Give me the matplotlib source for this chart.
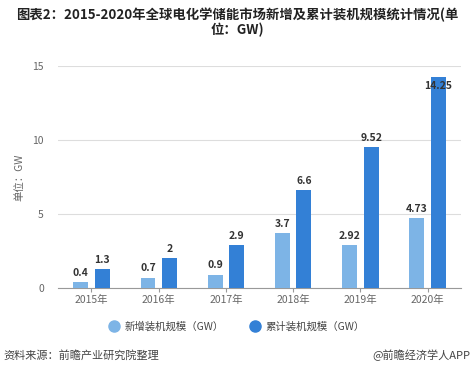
import matplotlib

matplotlib.use("Agg")
import matplotlib.pyplot as plt  # noqa: E402
import numpy as np  # noqa: E402
from matplotlib.lines import Line2D  # noqa: E402

plt.rcParams["font.family"] = ["Noto Sans CJK SC", "DejaVu Sans"]

years = ["2015年", "2016年", "2017年", "2018年", "2019年", "2020年"]
new_gw = [0.4, 0.7, 0.9, 3.7, 2.92, 4.73]
total_gw = [1.3, 2, 2.9, 6.6, 9.52, 14.25]
new_labels = ["0.4", "0.7", "0.9", "3.7", "2.92", "4.73"]
total_labels = ["1.3", "2", "2.9", "6.6", "9.52", "14.25"]

LIGHT = "#7db4e6"
DARK = "#3380d6"
GRAY = "#666666"

fig = plt.figure(figsize=(4.74, 3.71), dpi=100)
ax = fig.add_axes([0.122, 0.224, 0.851, 0.598])

x = np.arange(len(years))
w = 0.22
off = 0.16
ax.bar(x - off, new_gw, w, color=LIGHT, zorder=3)
ax.bar(x + off, total_gw, w, color=DARK, zorder=3)

for i in range(len(years)):
    ax.annotate(new_labels[i], (x[i] - off, new_gw[i]), xytext=(0, 3), textcoords="offset points",
                ha="center", va="bottom", fontsize=7.5, fontweight="bold", color="#333333")
    # the tallest bar gets its label just inside the top
    if total_gw[i] > 14:
        ax.annotate(total_labels[i], (x[i] + off, total_gw[i]), xytext=(0, -3), textcoords="offset points",
                    ha="center", va="top", fontsize=7.5, fontweight="bold", color="#333333", zorder=4)
    else:
        ax.annotate(total_labels[i], (x[i] + off, total_gw[i]), xytext=(0, 3), textcoords="offset points",
                    ha="center", va="bottom", fontsize=7.5, fontweight="bold", color="#333333")

ax.set_xlim(-0.5, 5.5)
ax.set_ylim(0, 15)
ax.set_yticks([0, 5, 10, 15])
ax.set_xticks(x)
ax.set_xticklabels(years)
ax.tick_params(axis="x", length=3, color="#999999", labelsize=7.5, labelcolor=GRAY, pad=2)
ax.tick_params(axis="y", length=0, labelsize=7.5, labelcolor=GRAY, pad=10)
ax.grid(axis="y", color="#dddddd", linewidth=0.8, zorder=0)
for s in ["top", "right", "left"]:
    ax.spines[s].set_visible(False)
ax.spines["bottom"].set_color("#999999")
ax.set_ylabel("单位：GW", fontsize=7.5, color=GRAY, labelpad=6)

fig.suptitle("图表2：2015-2020年全球电化学储能市场新增及累计装机规模统计情况(单\n位：GW)",
             fontsize=9.6, fontweight="bold", color="#222222", y=0.978, linespacing=1.0)

handles = [Line2D([], [], marker="o", linestyle="", color=LIGHT, markersize=8),
           Line2D([], [], marker="o", linestyle="", color=DARK, markersize=8)]
fig.legend(handles=handles, labels=["新增装机规模（GW）", "累计装机规模（GW）"],
           loc="center", bbox_to_anchor=(0.5, 0.12), ncol=2, frameon=False, fontsize=7.5,
           handlelength=1.0, handletextpad=0.5, columnspacing=2.5, labelcolor="#444444")

fig.text(0.008, 0.042, "资料来源：前瞻产业研究院整理", fontsize=8, color="#444444", va="center")
fig.text(0.992, 0.042, "@前瞻经济学人APP", fontsize=8, color="#444444", va="center", ha="right")

fig.savefig("out.png", dpi=100)
